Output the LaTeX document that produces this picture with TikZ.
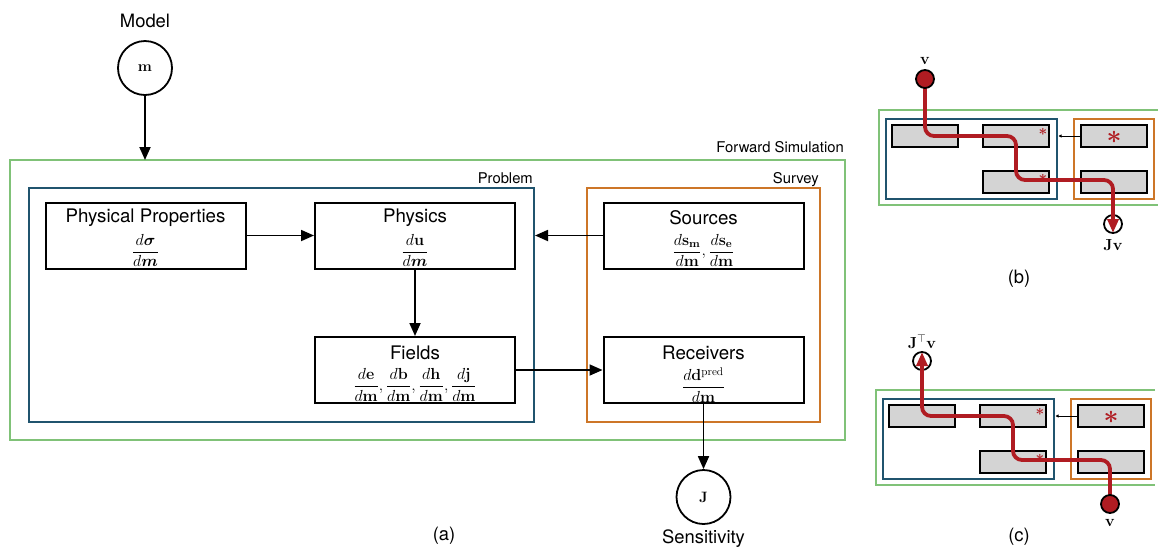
\RequirePackage{fix-cm}
\documentclass[tikz,border=0pt]{standalone}
\usepackage{amsmath,bm}
\usepackage[no-math]{fontspec}
\setmainfont{TeX Gyre Heros}
\usetikzlibrary{arrows.meta}
\definecolor{fsgreen}{RGB}{128,194,120}
\definecolor{probblue}{RGB}{32,84,110}
\definecolor{survorange}{RGB}{205,118,40}
\definecolor{pathred}{RGB}{176,28,34}
\definecolor{boxgray}{RGB}{212,212,212}
\newcommand{\sketchpanel}[1]{%
  \draw[grp,fsgreen] (1158,110) -- (879,110) -- (879,205) -- (1158,205);
  \draw[grp,probblue] (886,119) rectangle (1057,199);
  \draw[grp,survorange] (1074,119) rectangle (1154,199);
  \node[gbox] (#1a) at (925,136) {};
  \node[gbox] (#1b) at (1016,136) {};
  \node[gbox] (#1c) at (1016,182) {};
  \node[gbox] (#1d) at (1114,136) {};
  \node[gbox] (#1e) at (1114,182) {};
  \node[smallast] (#1s1) at (1043,132) {$\boldsymbol{\ast}$};
  \node[smallast] (#1s2) at (1043,178) {$\boldsymbol{\ast}$};
  \node[bigast] (#1s3) at (1114,137) {$\boldsymbol{\ast}$};
  \coordinate (#1pe) at (1058.5,136);
  \draw[tinyarr] (#1d.west) -- (#1pe);
}
\begin{document}
\begin{tikzpicture}[x=1pt,y=-1pt,
  procbox/.style={draw,line width=2pt,minimum width=200pt,minimum height=66pt,inner sep=0pt},
  ttl/.style={font=\fontsize{18.7}{22}\selectfont,inner sep=0pt},
  frc/.style={font=\fontsize{16}{19}\selectfont,inner sep=0pt},
  lbl/.style={font=\fontsize{14.8}{18}\selectfont,inner sep=0pt},
  big/.style={font=\fontsize{18.4}{22}\selectfont,inner sep=0pt},
  mlbl/.style={font=\fontsize{16}{18}\selectfont,inner sep=0pt},
  circnode/.style={circle,draw,line width=1.8pt,minimum size=54pt,inner sep=0pt,font=\fontsize{15}{16}\selectfont},
  arr/.style={line width=1.8pt,-{Triangle[length=13pt,width=11pt]}},
  grp/.style={line width=2pt},
  gbox/.style={draw,line width=2pt,fill=boxgray,minimum width=66pt,minimum height=22pt,inner sep=0pt},
  smallast/.style={text=pathred,inner sep=0pt,font=\fontsize{15}{18}\selectfont},
  bigast/.style={text=pathred,inner sep=0pt,font=\fontsize{26}{30}\selectfont},
  tinyarr/.style={line width=1pt,-{Triangle[length=3pt,width=3pt]}},
  redpath/.style={draw=pathred,line width=3.8pt,rounded corners=9pt,-{Triangle[length=14pt,width=11pt]}},
  vdot/.style={circle,draw=black,fill=pathred,line width=1.8pt,minimum size=18pt,inner sep=0pt},
  odot/.style={circle,draw=black,fill=white,line width=1.8pt,minimum size=18pt,inner sep=0pt}
]
\useasboundingbox (0,0) rectangle (1158,550);

% ---------- panel (a) ----------
\node[big] (model) at (145,21) {Model};
\node[circnode] (m) at (145,68) {$\mathbf m$};
\draw[grp,fsgreen] (10,160) rectangle (845,440);
\draw[grp,probblue] (29,188) rectangle (534,422);
\draw[grp,survorange] (587,188) rectangle (820,422);
\node[lbl,anchor=base east] (fslbl) at (844,152) {Forward Simulation};
\node[lbl,anchor=base east] (problbl) at (533,183) {Problem};
\node[lbl,anchor=base east] (survlbl) at (819,183) {Survey};
\coordinate (fstop) at (145,160);
\draw[arr] (m.south) -- (fstop);

\node[procbox] (pp) at (145.5,235.5) {};
\node[ttl] (ppt) at ([yshift=17.5pt]pp.center) {Physical Properties};
\node[frc] (ppf) at ([yshift=-15pt]pp.center) {$\displaystyle\frac{d\boldsymbol{\sigma}}{d\boldsymbol{m}}$};

\node[procbox] (phys) at (415,235.5) {};
\node[ttl] (physt) at ([yshift=17.5pt]phys.center) {Physics};
\node[frc] (physf) at ([yshift=-15pt]phys.center) {$\displaystyle\frac{d\mathbf{u}}{d\boldsymbol{m}}$};

\node[procbox] (src) at (703.5,235.5) {};
\node[ttl] (srct) at ([yshift=17.5pt]src.center) {Sources};
\node[frc] (srcf) at ([yshift=-15pt]src.center) {$\displaystyle\frac{d\mathbf{s}_{\mathbf{m}}}{d\mathbf{m}},\frac{d\mathbf{s}_{\mathbf{e}}}{d\mathbf{m}}$};

\node[procbox] (fld) at (415,370) {};
\node[ttl] (fldt) at ([yshift=17.5pt]fld.center) {Fields};
\node[frc] (fldf) at ([yshift=-15pt]fld.center) {$\displaystyle\frac{d\mathbf{e}}{d\mathbf{m}},\frac{d\mathbf{b}}{d\mathbf{m}},\frac{d\mathbf{h}}{d\mathbf{m}},\frac{d\mathbf{j}}{d\mathbf{m}}$};

\node[procbox] (rcv) at (703.5,370) {};
\node[ttl] (rcvt) at ([yshift=17.5pt]rcv.center) {Receivers};
\node[frc] (rcvf) at ([yshift=-15pt]rcv.center) {$\displaystyle\frac{d\mathbf{d}^{\mathrm{pred}}}{d\mathbf{m}}$};

\draw[arr] (pp.east) -- (phys.west);
\coordinate (probE) at (535,235.5);
\draw[arr] (src.west) -- (probE);
\draw[arr] (phys.south) -- (fld.north);
\draw[arr] (fld.east) -- (rcv.west);
\node[circnode] (J) at (703.5,497) {$\mathbf J$};
\draw[arr] (rcv.south) -- (J.north);
\node[big] (sens) at (703.5,539) {Sensitivity};
\node[big] (la) at (444,536) {(a)};

% ---------- panel (b) ----------
\sketchpanel{b}
\node[odot] (jvb) at (1113,224) {};
\coordinate (vbc) at (925,79);
\coordinate (jvbtip) at (1113,233);
\draw[redpath] (vbc) -- (925,136) -- (1016,136) -- (1016,180) -- (1113,180) -- (jvbtip);
\node[vdot] (vb) at (vbc) {};
\node[mlbl] (vbl) at (925,61) {$\mathbf v$};
\node[mlbl] (jvbl) at (1113,245) {$\mathbf{Jv}$};
\node[big] (lb) at (1019,279) {(b)};

% ---------- panel (c) ----------
\begin{scope}[shift={(-3,280)}]
\sketchpanel{c}
\node[odot] (jtv) at (925,81) {};
\coordinate (vcc) at (1113,224);
\coordinate (jtvtip) at (925,72);
\draw[redpath] (vcc) -- (1113,180) -- (1016,180) -- (1016,136) -- (925,136) -- (jtvtip);
\node[vdot] (vc) at (vcc) {};
\node[mlbl] (vcl) at (1113,243) {$\mathbf v$};
\node[mlbl] (jtvl) at (925,62) {$\mathbf{J}^{\top}\mathbf{v}$};
\end{scope}
\node[big] (lc) at (1019,537) {(c)};
\end{tikzpicture}
\end{document}
